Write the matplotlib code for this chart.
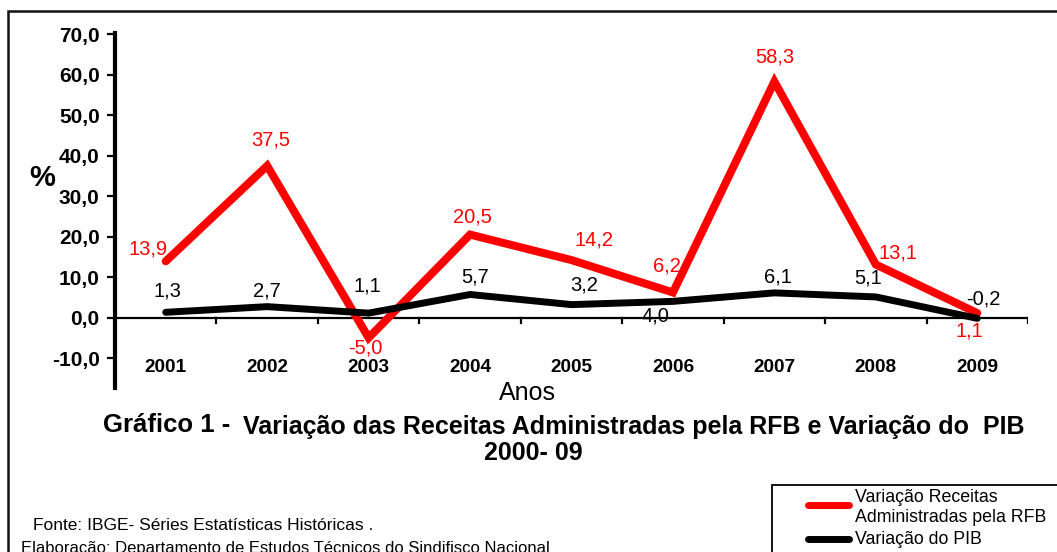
import matplotlib.pyplot as plt
from matplotlib.lines import Line2D
from matplotlib.patches import Rectangle

plt.rcParams['font.family'] = ['Liberation Sans', 'DejaVu Sans']

anos = ['2001', '2002', '2003', '2004', '2005', '2006', '2007', '2008', '2009']
receitas = [13.9, 37.5, -5.0, 20.5, 14.2, 6.2, 58.3, 13.1, 1.1]
pib = [1.3, 2.7, 1.1, 5.7, 3.2, 4.0, 6.1, 5.1, -0.2]
yticks = [-10, 0, 10, 20, 30, 40, 50, 60, 70]

# label offsets in pixels (dx, dy) for each point
off_rec = [(-18, 12), (4, 26), (-3, -10), (2, 18), (22, 20), (-6, 26), (0, 25), (22, 12), (-8, -18)]
off_pib = [(2, 21), (0, 16), (-1, 27), (5, 17), (13, 20), (-18, -15), (4, 16), (-8, 19), (6, 19)]


def fmt(v):
    return f'{v:.1f}'.replace('.', ',')


W, H = 1057, 552
fig = plt.figure(figsize=(W / 100, H / 100), dpi=100)
ax = fig.add_axes([115 / W, 1 - 388 / H, 913 / W, 355 / H])

x = list(range(len(anos)))
ax.plot(x, receitas, color='#ff0000', lw=5.8, solid_capstyle='round', solid_joinstyle='miter')
ax.plot(x, pib, color='black', lw=5.0, solid_capstyle='round', solid_joinstyle='round')

for i, v in enumerate(receitas):
    ax.annotate(fmt(v), (x[i], v), xytext=off_rec[i], textcoords='offset pixels',
                ha='center', va='center', color='#ff0000', fontsize=14.5)
for i, v in enumerate(pib):
    ax.annotate(fmt(v), (x[i], v), xytext=off_pib[i], textcoords='offset pixels',
                ha='center', va='center', color='black', fontsize=14.5)

ax.set_xlim(-0.5, len(anos) - 0.5)
ax.set_ylim(-17.4, 70.3)

# zero line with category separator ticks
ax.axhline(0, color='black', lw=1.6, zorder=1)
for b in range(len(anos) + 1):
    ax.plot([b - 0.5, b - 0.5], [0, -1.4], color='black', lw=1.6, zorder=1)

for i, a in enumerate(anos):
    ax.text(x[i], -12.3, a, ha='center', va='center', fontsize=13.7, fontweight='bold')

ax.set_xticks([])
ax.set_yticks(yticks)
ax.set_yticklabels([fmt(t) for t in yticks], fontsize=15, fontweight='bold')
ax.tick_params(axis='y', length=6, width=1.6, pad=5)
for s in ['top', 'right', 'bottom']:
    ax.spines[s].set_visible(False)
ax.spines['left'].set_linewidth(3)

fig.text(527 / W, 1 - 393 / H, 'Anos', ha='center', va='center', fontsize=18)
fig.text(42 / W, 1 - 178 / H, '%', ha='center', va='center', fontsize=21, fontweight='bold')

fig.text(103 / W, 1 - 425 / H, 'Gráfico 1 -', ha='left', va='center', fontsize=18.5, fontweight='bold')
fig.text(243 / W, 1 - 427 / H, 'Variação das Receitas Administradas pela RFB e Variação do  PIB',
         ha='left', va='center', fontsize=18, fontweight='bold')
fig.text(533 / W, 1 - 453 / H, '2000- 09', ha='center', va='center', fontsize=18, fontweight='bold')

fig.text(33 / W, 1 - 526 / H, 'Fonte: IBGE- Séries Estatísticas Históricas .', ha='left', va='center', fontsize=12.5)
fig.text(21 / W, 1 - 548 / H, 'Elaboração: Departamento de Estudos Técnicos do Sindifisco Nacional',
         ha='left', va='center', fontsize=12)

# outer frame
fig.add_artist(Rectangle((8 / W, -0.05), 1.2, 1 - 11 / H + 0.05, transform=fig.transFigure,
                         fill=False, ec='#111111', lw=1.8))

# legend box
fig.add_artist(Rectangle((772 / W, -0.05), 0.5, 1 - 485 / H + 0.05, transform=fig.transFigure,
                         fill=False, ec='black', lw=1.3))
fig.add_artist(Line2D([808 / W, 849 / W], [1 - 505 / H] * 2, transform=fig.transFigure,
                      color='#ff0000', lw=5, solid_capstyle='round'))
fig.add_artist(Line2D([808 / W, 849 / W], [1 - 539 / H] * 2, transform=fig.transFigure,
                      color='black', lw=5, solid_capstyle='round'))
fig.text(855 / W, 1 - 497 / H, 'Variação Receitas', ha='left', va='center', fontsize=12.8)
fig.text(855 / W, 1 - 517 / H, 'Administradas pela RFB', ha='left', va='center', fontsize=12.8)
fig.text(855 / W, 1 - 539 / H, 'Variação do PIB', ha='left', va='center', fontsize=12.8)

fig.savefig('out.png', dpi=100)
